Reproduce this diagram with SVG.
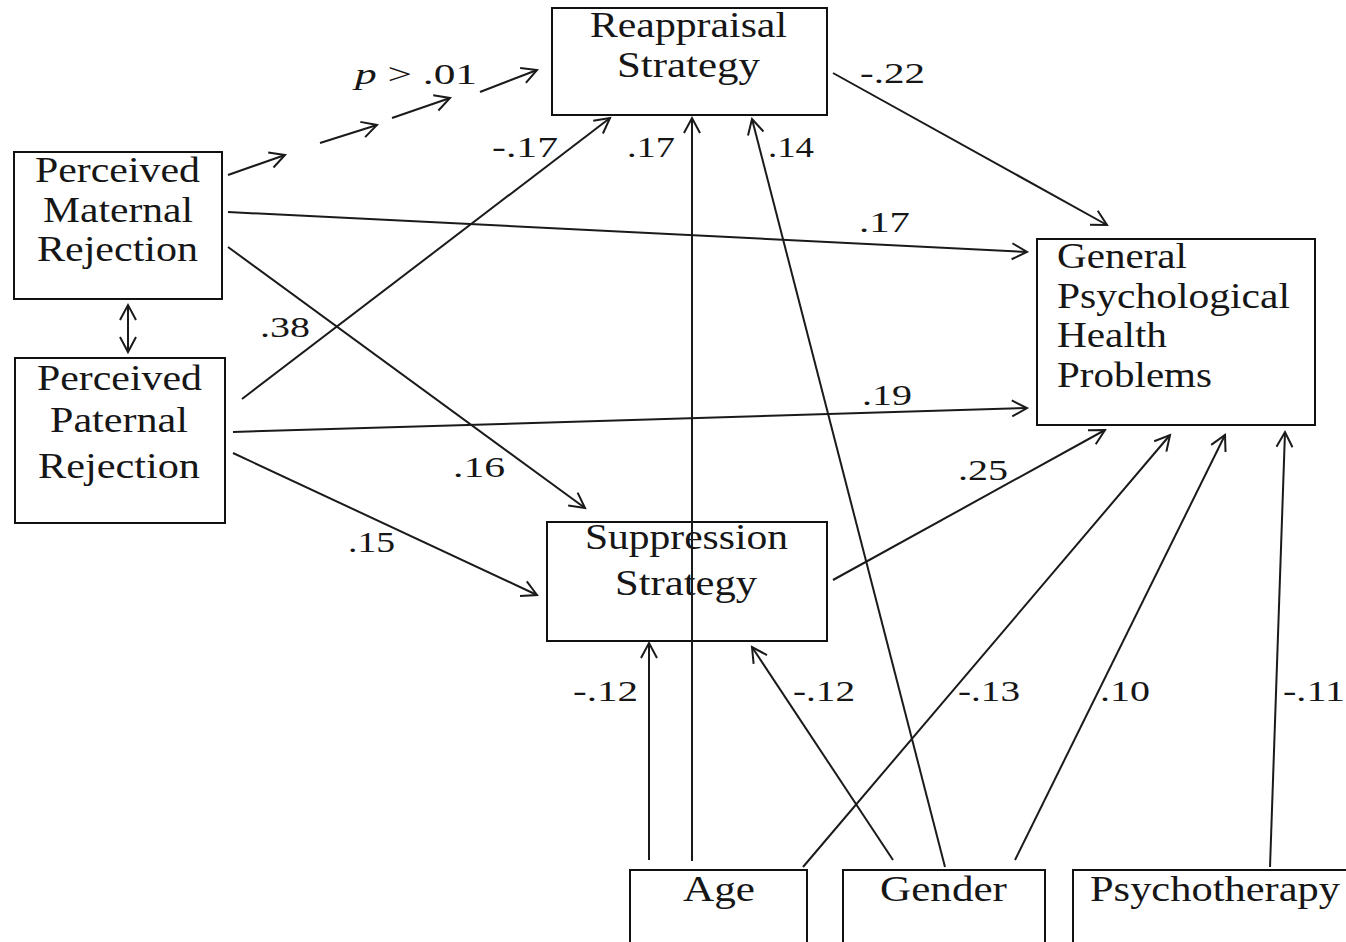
<svg xmlns="http://www.w3.org/2000/svg" width="1346" height="942" viewBox="0 0 1346 942">
<style>
.box{fill:#fff;stroke:#111;stroke-width:2}
.lbl{font-family:"Liberation Serif","Times New Roman",serif;font-size:35px;fill:#161616}
.num{font-family:"Liberation Serif","Times New Roman",serif;font-size:30px;fill:#161616}
.c{stroke:#1a1a1a;stroke-width:2;fill:none;marker-end:url(#ah)}
</style>
<defs>
<marker id="ah" markerUnits="userSpaceOnUse" markerWidth="20" markerHeight="20" viewBox="0 0 20 20" refX="17" refY="10" orient="auto">
<path d="M2,2 L17,10 L2,18" fill="none" stroke="#1a1a1a" stroke-width="2"/>
</marker>
<marker id="ah2" markerUnits="userSpaceOnUse" markerWidth="20" markerHeight="20" viewBox="0 0 20 20" refX="17" refY="10" orient="auto-start-reverse">
<path d="M2,2 L17,10 L2,18" fill="none" stroke="#1a1a1a" stroke-width="2"/>
</marker>
</defs>
<rect width="1346" height="942" fill="#fff"/>
<g id="connectors">
<line class="c" x1="228" y1="175" x2="285" y2="155"/>
<line class="c" x1="320" y1="143" x2="377" y2="125"/>
<line class="c" x1="392" y1="118" x2="450" y2="98"/>
<line class="c" x1="480" y1="92" x2="537" y2="70"/>
<line class="c" x1="833" y1="73" x2="1107" y2="225"/>
<line class="c" x1="228" y1="212" x2="1027" y2="252"/>
<line class="c" x1="228" y1="247" x2="585" y2="508"/>
<line class="c" x1="242" y1="399" x2="610" y2="118"/>
<line class="c" x1="233" y1="432" x2="1027" y2="408"/>
<line class="c" x1="233" y1="453" x2="537" y2="595"/>
<line class="c" x1="833" y1="580" x2="1105" y2="430"/>
<line class="c" x1="649" y1="860" x2="649" y2="643"/>
<line class="c" x1="945" y1="867" x2="752" y2="119"/>
<line class="c" x1="893" y1="860" x2="752" y2="647"/>
<line class="c" x1="803" y1="867" x2="1170" y2="435"/>
<line class="c" x1="1015" y1="860" x2="1225" y2="435"/>
<line class="c" x1="1270" y1="867" x2="1285" y2="432"/>
<line x1="128" y1="305" x2="128" y2="352" stroke="#1a1a1a" stroke-width="2" marker-start="url(#ah2)" marker-end="url(#ah2)"/>
</g>
<g id="reappraisal">
<rect class="box" x="552" y="8" width="275" height="107"/>
<text class="lbl" x="590" y="37" textLength="197" lengthAdjust="spacingAndGlyphs">Reappraisal</text>
<text class="lbl" x="617" y="77" textLength="143" lengthAdjust="spacingAndGlyphs">Strategy</text>
</g>
<g id="maternal">
<rect class="box" x="14" y="152" width="208" height="147"/>
<text class="lbl" x="35" y="182" textLength="165" lengthAdjust="spacingAndGlyphs">Perceived</text>
<text class="lbl" x="43" y="222" textLength="150" lengthAdjust="spacingAndGlyphs">Maternal</text>
<text class="lbl" x="37" y="261" textLength="161" lengthAdjust="spacingAndGlyphs">Rejection</text>
</g>
<g id="paternal">
<rect class="box" x="15" y="358" width="210" height="165"/>
<text class="lbl" x="37" y="390" textLength="165" lengthAdjust="spacingAndGlyphs">Perceived</text>
<text class="lbl" x="50" y="432" textLength="138" lengthAdjust="spacingAndGlyphs">Paternal</text>
<text class="lbl" x="38" y="478" textLength="162" lengthAdjust="spacingAndGlyphs">Rejection</text>
</g>
<g id="general">
<rect class="box" x="1037" y="239" width="278" height="186"/>
<text class="lbl" x="1057" y="268" textLength="130" lengthAdjust="spacingAndGlyphs">General</text>
<text class="lbl" x="1057" y="308" textLength="233" lengthAdjust="spacingAndGlyphs">Psychological</text>
<text class="lbl" x="1057" y="347" textLength="110" lengthAdjust="spacingAndGlyphs">Health</text>
<text class="lbl" x="1057" y="387" textLength="155" lengthAdjust="spacingAndGlyphs">Problems</text>
</g>
<g id="suppression">
<rect class="box" x="547" y="522" width="280" height="119"/>
<text class="lbl" x="585" y="549" textLength="203" lengthAdjust="spacingAndGlyphs">Suppression</text>
<text class="lbl" x="615" y="595" textLength="142" lengthAdjust="spacingAndGlyphs">Strategy</text>
</g>
<line x1="692" y1="861" x2="692" y2="118" class="c"/>
<g id="age">
<rect class="box" x="630" y="870" width="177" height="90"/>
<text class="lbl" x="683" y="901" textLength="72" lengthAdjust="spacingAndGlyphs">Age</text>
</g>
<g id="gender">
<rect class="box" x="843" y="870" width="202" height="90"/>
<text class="lbl" x="880" y="901" textLength="127" lengthAdjust="spacingAndGlyphs">Gender</text>
</g>
<g id="psychotherapy">
<rect class="box" x="1073" y="870" width="290" height="90"/>
<text class="lbl" x="1090" y="901" textLength="250" lengthAdjust="spacingAndGlyphs">Psychotherapy</text>
</g>
<g id="labels">
<text class="num" x="355" y="84" textLength="122" lengthAdjust="spacingAndGlyphs"><tspan font-style="italic">p</tspan> &gt; .01</text>
<text class="num" x="860" y="83" textLength="65" lengthAdjust="spacingAndGlyphs">-.22</text>
<text class="num" x="859" y="232" textLength="51" lengthAdjust="spacingAndGlyphs">.17</text>
<text class="num" x="862" y="405" textLength="50" lengthAdjust="spacingAndGlyphs">.19</text>
<text class="num" x="958" y="480" textLength="50" lengthAdjust="spacingAndGlyphs">.25</text>
<text class="num" x="492" y="157" textLength="66" lengthAdjust="spacingAndGlyphs">-.17</text>
<text class="num" x="627" y="157" textLength="48" lengthAdjust="spacingAndGlyphs">.17</text>
<text class="num" x="768" y="157" textLength="46" lengthAdjust="spacingAndGlyphs">.14</text>
<text class="num" x="260" y="337" textLength="50" lengthAdjust="spacingAndGlyphs">.38</text>
<text class="num" x="453" y="477" textLength="52" lengthAdjust="spacingAndGlyphs">.16</text>
<text class="num" x="348" y="552" textLength="47" lengthAdjust="spacingAndGlyphs">.15</text>
<text class="num" x="573" y="701" textLength="65" lengthAdjust="spacingAndGlyphs">-.12</text>
<text class="num" x="793" y="701" textLength="62" lengthAdjust="spacingAndGlyphs">-.12</text>
<text class="num" x="958" y="701" textLength="62" lengthAdjust="spacingAndGlyphs">-.13</text>
<text class="num" x="1100" y="701" textLength="50" lengthAdjust="spacingAndGlyphs">.10</text>
<text class="num" x="1283" y="701" textLength="62" lengthAdjust="spacingAndGlyphs">-.11</text>
</g>
</svg>
